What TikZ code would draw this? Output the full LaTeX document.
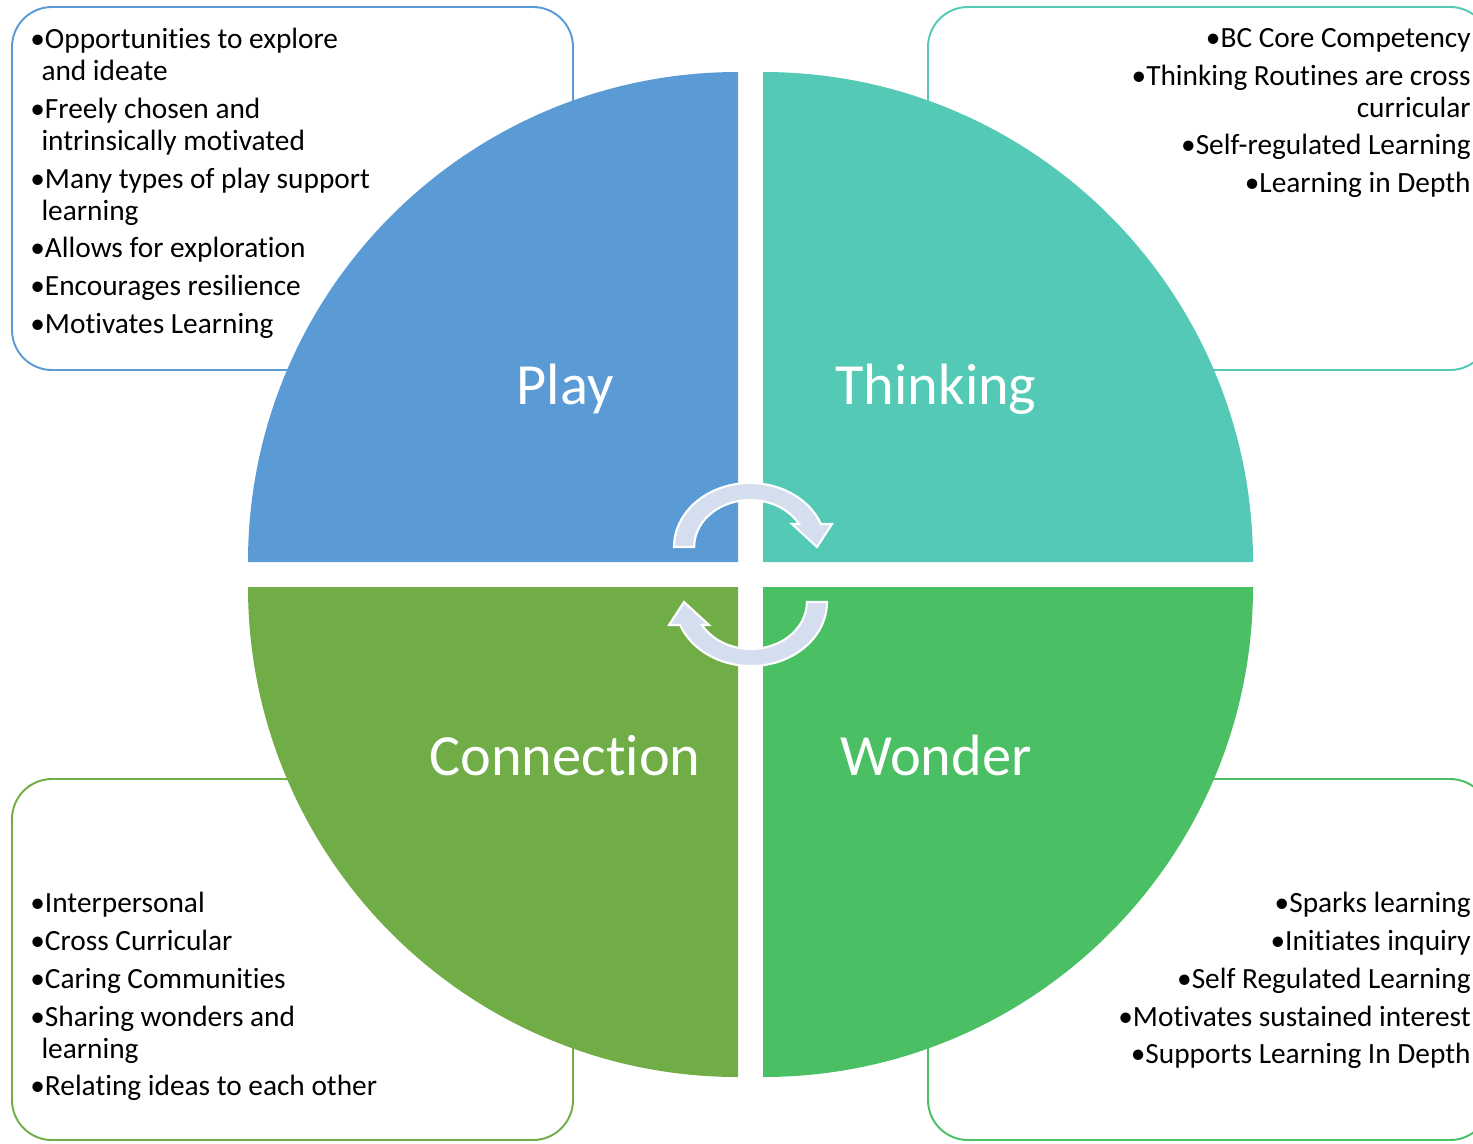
\documentclass[tikz,border=0pt]{standalone}
\usepackage{fontspec}
\setmainfont{Carlito}[Ligatures=NoCommon]
\definecolor{playc}{HTML}{5B9BD5}
\definecolor{thinkc}{HTML}{53C9B6}
\definecolor{connc}{HTML}{70AD47}
\definecolor{wondc}{HTML}{4ABF64}
\definecolor{arrc}{HTML}{D5DEEF}
\def\rr{490}
\def\gapp{3.3pt}
\newcommand\ind{\hspace*{.38em}}
\tikzset{panel/.style={draw=#1,line width=1.1pt,rounded corners=.8cm},
    quad/.style={fill=#1},
    title/.style={text=white,font=\fontsize{33.2}{39}\selectfont,anchor=base},
    notes/.style={font=\fontsize{16.7}{18.2}\selectfont,inner sep=0pt,align=#1},
    cyc/.style={fill=arrc,draw=white,line width=1.2pt}}

\begin{document}
\begin{tikzpicture}[x=.02cm,y=.02cm]
    \useasboundingbox (0,0) rectangle (1473,-1143);
    \clip (0,0) rectangle (1473,-1143);
    \draw[panel=playc]  (12,-7) rectangle (573,-370);
    \draw[panel=thinkc] (928,-7) rectangle (1490,-370);
    \draw[panel=connc]  (12,-779) rectangle (573,-1140);
    \draw[panel=wondc]  (928,-779) rectangle (1490,-1140);
    \fill[quad=playc]  (738,-562) -- (248,-562) arc[start angle=180,end angle=90,radius=\rr] -- cycle;
    \fill[quad=thinkc] (763,-562) -- (1253,-562) arc[start angle=0,end angle=90,radius=\rr] -- cycle;
    \fill[quad=connc]  (738,-587) -- (248,-587) arc[start angle=180,end angle=270,radius=\rr] -- cycle;
    \fill[quad=wondc]  (763,-587) -- (1253,-587) arc[start angle=0,end angle=-90,radius=\rr] -- cycle;
    \node[title] (play) at (565,-404) {Play};
    \node[title] (thinking) at (936,-404) {Thinking};
    \node[title] (connection) at (565,-775) {Connection};
    \node[title] (wonder) at (936,-775) {Wonder};
    \foreach \a in {0,180}
      \filldraw[cyc,rotate around={\a:(750.5,-574.5)}] (674,-547)
        arc[start angle=180,end angle=21,x radius=76,y radius=64]
        -- (832,-524) -- (817,-547) -- (792,-524) -- (799,-524)
        arc[start angle=29.3,end angle=180,x radius=56,y radius=47] -- cycle;
    \node[notes=left,anchor=north west] (playnotes) at (30,-28)
      {•Opportunities to explore\\\ind and ideate\\[\gapp]•Freely chosen and\\\ind intrinsically motivated\\[\gapp]%
       •Many types of play support\\\ind learning\\[\gapp]•Allows for exploration\\[\gapp]•Encourages resilience\\[\gapp]•Motivates Learning};
    \node[notes=right,anchor=north east] (thinknotes) at (1471,-28)
      {•BC Core Competency\\[\gapp]•Thinking Routines are cross\\curricular\\[\gapp]•Self-regulated Learning\\[\gapp]•Learning in Depth};
    \node[notes=left,anchor=north west] (connnotes) at (30,-892)
      {•Interpersonal\\[\gapp]•Cross Curricular\\[\gapp]•Caring Communities\\[\gapp]•Sharing wonders and\\\ind learning\\[\gapp]•Relating ideas to each other};
    \node[notes=right,anchor=north east] (wondnotes) at (1471,-892)
      {•Sparks learning\\[\gapp]•Initiates inquiry\\[\gapp]•Self Regulated Learning\\[\gapp]•Motivates sustained interest\\[\gapp]•Supports Learning In Depth};
\end{tikzpicture}
\end{document}
